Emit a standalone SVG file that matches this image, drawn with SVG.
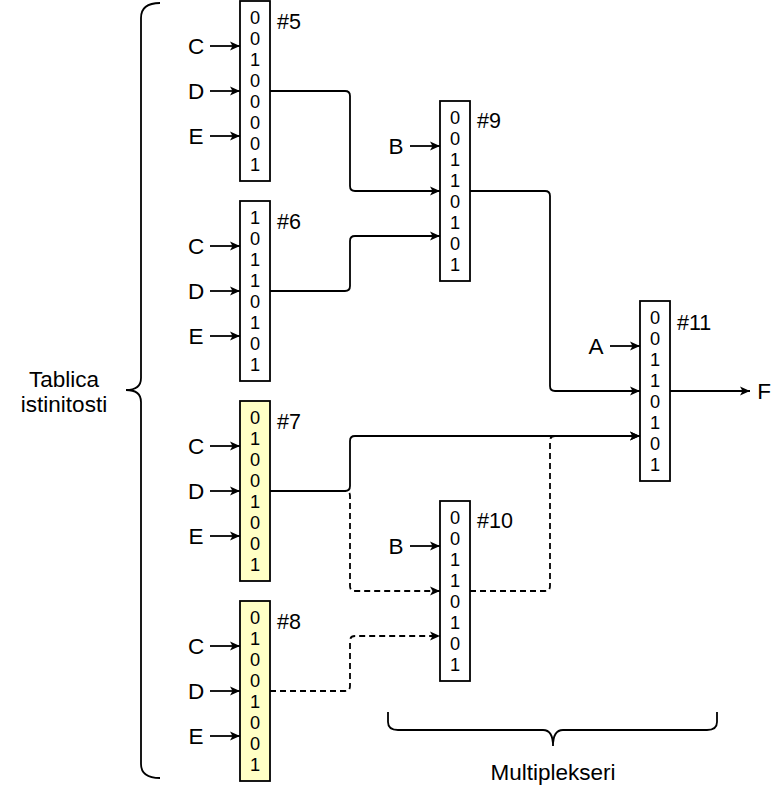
<svg xmlns="http://www.w3.org/2000/svg" width="781" height="787" viewBox="0 0 781 787">
<style>
text{font-family:"Liberation Sans",Arial,sans-serif;fill:#000}
.d{font-size:18.2px;text-anchor:middle}
.l{font-size:22.5px;text-anchor:middle}
.n{font-size:21.5px}
.box{fill:#fff;stroke:#000;stroke-width:1.8}
.y{fill:#ffffc6}
.w{fill:none;stroke:#000;stroke-width:1.8}
.a{marker-end:url(#ah)}
.ds{stroke-dasharray:6 4}
</style>
<defs>
<marker id="ah" markerUnits="userSpaceOnUse" markerWidth="14" markerHeight="12" viewBox="-11 -6 12 12" refX="0" refY="0" orient="auto">
<path d="M-10,-4.5 L0,0 L-10,4.5 L-7.5,0 Z" fill="#000"/>
</marker>
</defs>

<g id="connectors">
<path class="w a" d="M270,91 H345 Q350,91 350,96 V186 Q350,191 355,191 H440"/>
<path class="w a" d="M270,291 H345 Q350,291 350,286 V241 Q350,236 355,236 H440"/>
<path class="w a" d="M470,191 H545 Q550,191 550,196 V386 Q550,391 555,391 H640"/>
<path class="w a ds" d="M270,491 H345 Q350,491 350,496 V586 Q350,591 355,591 H440"/>
<path class="w a ds" d="M270,691 H345 Q350,691 350,686 V641 Q350,636 355,636 H440"/>
<path class="w a ds" d="M470,591 H545 Q550,591 550,586 V441 Q550,436 555,436 H640"/>
<path class="w a" d="M270,491 H345 Q350,491 350,486 V441 Q350,436 355,436 H640"/>
<path class="w a" d="M670,391 H750"/>
<path class="w a" d="M210,46 H240"/><path class="w a" d="M210,91 H240"/><path class="w a" d="M210,136 H240"/>
<path class="w a" d="M210,246 H240"/><path class="w a" d="M210,291 H240"/><path class="w a" d="M210,336 H240"/>
<path class="w a" d="M210,446 H240"/><path class="w a" d="M210,491 H240"/><path class="w a" d="M210,536 H240"/>
<path class="w a" d="M210,646 H240"/><path class="w a" d="M210,691 H240"/><path class="w a" d="M210,736 H240"/>
<path class="w a" d="M410,146 H440"/>
<path class="w a" d="M410,546 H440"/>
<path class="w a" d="M610,346 H640"/>
</g>

<g id="inputLabels">
<text class="l" x="196" y="54">C</text><text class="l" x="196" y="99">D</text><text class="l" x="196" y="144">E</text>
<text class="l" x="196" y="254">C</text><text class="l" x="196" y="299">D</text><text class="l" x="196" y="344">E</text>
<text class="l" x="196" y="454">C</text><text class="l" x="196" y="499">D</text><text class="l" x="196" y="544">E</text>
<text class="l" x="196" y="654">C</text><text class="l" x="196" y="699">D</text><text class="l" x="196" y="744">E</text>
<text class="l" x="396" y="154">B</text>
<text class="l" x="396" y="554">B</text>
<text class="l" x="596" y="354">A</text>
<text class="l" x="764" y="399">F</text>
</g>

<g id="n5">
<rect class="box" x="240" y="1" width="30" height="180"/>
<text class="d" x="255" y="24"><tspan x="255">0</tspan><tspan x="255" dy="21">0</tspan><tspan x="255" dy="21">1</tspan><tspan x="255" dy="21">0</tspan><tspan x="255" dy="21">0</tspan><tspan x="255" dy="21">0</tspan><tspan x="255" dy="21">0</tspan><tspan x="255" dy="21">1</tspan></text>
<text class="n" x="277" y="29">#5</text>
</g>
<g id="n6">
<rect class="box" x="240" y="201" width="30" height="180"/>
<text class="d" x="255" y="224"><tspan x="255">1</tspan><tspan x="255" dy="21">0</tspan><tspan x="255" dy="21">1</tspan><tspan x="255" dy="21">1</tspan><tspan x="255" dy="21">0</tspan><tspan x="255" dy="21">1</tspan><tspan x="255" dy="21">0</tspan><tspan x="255" dy="21">1</tspan></text>
<text class="n" x="277" y="229">#6</text>
</g>
<g id="n7">
<rect class="box y" x="240" y="401" width="30" height="180"/>
<text class="d" x="255" y="424"><tspan x="255">0</tspan><tspan x="255" dy="21">1</tspan><tspan x="255" dy="21">0</tspan><tspan x="255" dy="21">0</tspan><tspan x="255" dy="21">1</tspan><tspan x="255" dy="21">0</tspan><tspan x="255" dy="21">0</tspan><tspan x="255" dy="21">1</tspan></text>
<text class="n" x="277" y="429">#7</text>
</g>
<g id="n8">
<rect class="box y" x="240" y="601" width="30" height="180"/>
<text class="d" x="255" y="624"><tspan x="255">0</tspan><tspan x="255" dy="21">1</tspan><tspan x="255" dy="21">0</tspan><tspan x="255" dy="21">0</tspan><tspan x="255" dy="21">1</tspan><tspan x="255" dy="21">0</tspan><tspan x="255" dy="21">0</tspan><tspan x="255" dy="21">1</tspan></text>
<text class="n" x="277" y="629">#8</text>
</g>
<g id="n9">
<rect class="box" x="440" y="101" width="30" height="180"/>
<text class="d" x="455" y="124"><tspan x="455">0</tspan><tspan x="455" dy="21">0</tspan><tspan x="455" dy="21">1</tspan><tspan x="455" dy="21">1</tspan><tspan x="455" dy="21">0</tspan><tspan x="455" dy="21">1</tspan><tspan x="455" dy="21">0</tspan><tspan x="455" dy="21">1</tspan></text>
<text class="n" x="477" y="128">#9</text>
</g>
<g id="n10">
<rect class="box" x="440" y="501" width="30" height="180"/>
<text class="d" x="455" y="524"><tspan x="455">0</tspan><tspan x="455" dy="21">0</tspan><tspan x="455" dy="21">1</tspan><tspan x="455" dy="21">1</tspan><tspan x="455" dy="21">0</tspan><tspan x="455" dy="21">1</tspan><tspan x="455" dy="21">0</tspan><tspan x="455" dy="21">1</tspan></text>
<text class="n" x="477" y="528">#10</text>
</g>
<g id="n11">
<rect class="box" x="640" y="301" width="30" height="180"/>
<text class="d" x="655" y="324"><tspan x="655">0</tspan><tspan x="655" dy="21">0</tspan><tspan x="655" dy="21">1</tspan><tspan x="655" dy="21">1</tspan><tspan x="655" dy="21">0</tspan><tspan x="655" dy="21">1</tspan><tspan x="655" dy="21">0</tspan><tspan x="655" dy="21">1</tspan></text>
<text class="n" x="677" y="330">#11</text>
</g>

<g id="braceTables">
<path class="w" d="M160,3 Q141,3 141,18 L141,378 Q141,390 126,390 Q141,390 141,402 L141,764 Q141,778 160,778"/>
<text class="l" x="64" y="387">Tablica</text>
<text class="l" x="64" y="412">istinitosti</text>
</g>
<g id="braceMux">
<path class="w" d="M388,712 L388,722 Q388,730 398,730 L543,730 Q553,730 553,746 Q553,730 563,730 L707,730 Q717,730 717,722 L717,712"/>
<text class="l" x="553" y="780">Multiplekseri</text>
</g>
</svg>
